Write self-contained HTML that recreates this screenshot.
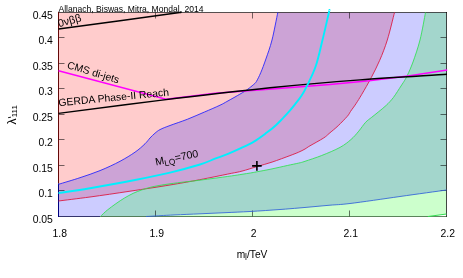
<!DOCTYPE html>
<html><head><meta charset="utf-8"><title>plot</title>
<style>
html,body{margin:0;padding:0;background:#fff;}
svg{display:block;will-change:transform;}
text{font-family:"Liberation Sans",sans-serif;font-size:10.2px;fill:#000;}
</style></head><body>
<svg width="463" height="278" viewBox="0 0 463 278">
<rect width="463" height="278" fill="#fff"/>
<path d="M58.5,12.5L394.4,12.5L394.5,12.5C393.3,17.1 389.8,32.0 387.3,40.0C384.8,48.0 382.4,54.0 379.7,60.3C377.0,66.5 374.3,71.8 371.3,77.5C368.3,83.2 364.4,89.9 361.8,94.3C359.2,98.7 357.9,100.8 356.0,103.7C354.1,106.6 351.9,109.4 350.5,111.5C349.1,113.6 349.4,113.9 347.3,116.3C345.2,118.7 341.2,122.8 338.2,125.7C335.2,128.6 331.5,131.4 329.1,133.5C326.7,135.6 326.8,135.9 323.6,138.0C320.4,140.1 313.1,144.0 310.0,145.8C306.9,147.6 306.9,147.9 305.0,149.0C303.1,150.1 301.1,151.1 298.6,152.2C296.1,153.3 294.4,153.9 290.0,155.6C285.6,157.2 277.5,160.3 272.0,162.1C266.5,163.9 261.9,165.1 256.9,166.6C251.9,168.1 246.2,170.0 242.0,171.1C237.8,172.2 236.6,172.3 231.6,173.3C226.6,174.3 218.1,176.1 212.0,177.3C205.9,178.5 202.0,179.3 195.0,180.6C188.0,181.9 180.8,183.2 170.0,185.0C159.2,186.8 143.3,189.2 130.0,191.2C116.7,193.2 101.9,195.4 90.0,197.0C78.1,198.6 63.8,200.3 58.5,201.0Z" fill="#ff0000" fill-opacity="0.2" stroke="none"/>
<path d="M58.5,184.3C62.1,183.2 73.1,180.0 80.0,177.7C86.9,175.4 93.3,173.3 100.0,170.6C106.7,167.9 114.2,164.4 120.0,161.3C125.8,158.2 130.8,155.1 135.0,152.2C139.2,149.3 142.5,146.2 145.0,143.8C147.5,141.4 148.3,139.8 150.0,138.0C151.7,136.2 153.3,134.6 155.0,133.2C156.7,131.8 157.5,130.9 160.0,129.6C162.5,128.3 165.4,127.2 170.0,125.5C174.6,123.8 181.6,121.5 187.3,119.3C193.1,117.0 199.1,114.3 204.5,112.0C209.9,109.7 216.3,107.0 220.0,105.2C223.7,103.5 224.4,102.9 226.9,101.5C229.4,100.1 232.1,98.7 235.0,97.0C237.9,95.3 241.8,93.1 244.4,91.5C247.0,89.9 248.9,88.4 250.4,87.2C251.9,86.0 252.5,85.5 253.5,84.6C254.5,83.6 255.2,83.5 256.4,81.5C257.6,79.5 259.1,76.5 260.7,72.8C262.3,69.0 264.0,64.5 265.9,59.0C267.8,53.5 270.0,47.8 272.0,40.0C274.0,32.2 276.8,17.1 277.8,12.5L446.5,12.5L446.5,190.0L446.5,190.0C438.8,191.1 416.1,194.2 400.0,196.5C383.9,198.8 361.7,202.1 350.0,203.5C338.3,204.9 338.3,204.5 330.0,205.2C321.7,205.9 308.3,207.2 300.0,207.9C291.7,208.6 288.3,208.9 280.0,209.5C271.7,210.1 259.2,211.0 250.0,211.5C240.8,212.0 233.3,212.3 225.0,212.7C216.7,213.1 208.3,213.4 200.0,213.8C191.7,214.2 181.7,214.6 175.0,214.9C168.3,215.2 164.8,215.4 160.0,215.7C155.2,216.0 148.3,216.4 146.0,216.5L58.5,216.5Z" fill="#0000ff" fill-opacity="0.2" stroke="none"/>
<path d="M100.4,216.5C101.6,215.4 104.7,212.2 107.3,210.1C109.9,208.0 113.0,205.7 115.9,203.7C118.8,201.7 121.6,199.7 124.5,198.0C127.4,196.3 130.3,194.7 133.2,193.3C136.1,192.0 138.9,190.9 141.8,189.9C144.7,188.9 147.5,188.0 150.4,187.3C153.3,186.6 155.8,186.1 159.1,185.5C162.4,184.9 165.7,184.4 170.0,183.8C174.3,183.2 180.8,182.4 185.0,181.9C189.2,181.4 190.5,181.4 195.0,180.8C199.5,180.2 205.9,179.4 212.0,178.6C218.1,177.8 226.6,176.6 231.6,175.9C236.6,175.2 238.9,174.8 242.0,174.3C245.1,173.8 247.9,173.4 250.4,173.0C252.9,172.6 253.3,172.5 256.9,171.8C260.5,171.1 266.9,170.0 272.0,168.9C277.1,167.8 282.9,166.5 287.3,165.5C291.7,164.5 295.7,163.8 298.6,163.1C301.6,162.4 301.1,162.6 305.0,161.3C308.9,160.0 315.9,157.8 321.7,155.5C327.5,153.2 335.1,150.1 340.0,147.4C344.9,144.7 347.9,142.2 351.0,139.5C354.1,136.8 356.4,134.0 358.8,131.1C361.2,128.2 363.5,124.6 365.6,122.3C367.8,120.0 369.6,119.0 371.7,117.3C373.8,115.6 375.8,114.1 378.2,112.1C380.6,110.1 383.8,107.7 386.3,105.3C388.8,102.9 390.9,100.7 393.4,97.5C395.8,94.3 399.1,88.9 401.0,86.0C402.9,83.1 403.6,82.1 404.7,80.3C405.8,78.5 406.1,78.0 407.5,75.0C408.9,72.0 410.9,67.8 413.0,62.0C415.1,56.2 417.9,48.2 420.0,40.0C422.1,31.8 424.6,17.1 425.5,12.5L446.5,12.5L446.5,214.0L428,216.5Z" fill="#00ff00" fill-opacity="0.2" stroke="none"/>
<path d="M58.5,37.5h6M446.5,37.5h-6M58.5,63.5h6M446.5,63.5h-6M58.5,88.5h6M446.5,88.5h-6M58.5,114.5h6M446.5,114.5h-6M58.5,139.5h6M446.5,139.5h-6M58.5,165.5h6M446.5,165.5h-6M58.5,190.5h6M446.5,190.5h-6M155.5,216.5v-6M155.5,12.5v6M252.5,216.5v-6M252.5,12.5v6M349.5,216.5v-6M349.5,12.5v6" stroke="#000" stroke-width="1" stroke-opacity="0.55" fill="none"/>
<path d="M58,12.5H447" stroke="#000" stroke-width="1" stroke-opacity="0.66" fill="none"/>
<path d="M446.5,12V217" stroke="#000" stroke-width="1" stroke-opacity="0.72" fill="none"/>
<path d="M58,216.5H100.4" stroke="#20205c" stroke-width="1" stroke-opacity="0.9" fill="none"/>
<path d="M100.4,216.5H447" stroke="#174a17" stroke-width="1" stroke-opacity="0.68" fill="none"/>
<path d="M58.5,12V183.5" stroke="#640808" stroke-width="1" fill="none"/>
<path d="M58.5,183.5V217" stroke="#000080" stroke-width="1" fill="none"/>
<path d="M58.5,201.0C63.8,200.3 78.1,198.6 90.0,197.0C101.9,195.4 116.7,193.2 130.0,191.2C143.3,189.2 159.2,186.8 170.0,185.0C180.8,183.2 188.0,181.9 195.0,180.6C202.0,179.3 205.9,178.5 212.0,177.3C218.1,176.1 226.6,174.3 231.6,173.3C236.6,172.3 237.8,172.2 242.0,171.1C246.2,170.0 251.9,168.1 256.9,166.6C261.9,165.1 266.5,163.9 272.0,162.1C277.5,160.3 285.6,157.2 290.0,155.6C294.4,153.9 296.1,153.3 298.6,152.2C301.1,151.1 303.1,150.1 305.0,149.0C306.9,147.9 306.9,147.6 310.0,145.8C313.1,144.0 320.4,140.1 323.6,138.0C326.8,135.9 326.7,135.6 329.1,133.5C331.5,131.4 335.2,128.6 338.2,125.7C341.2,122.8 345.2,118.7 347.3,116.3C349.4,113.9 349.1,113.6 350.5,111.5C351.9,109.4 354.1,106.6 356.0,103.7C357.9,100.8 359.2,98.7 361.8,94.3C364.4,89.9 368.3,83.2 371.3,77.5C374.3,71.8 377.0,66.5 379.7,60.3C382.4,54.0 384.8,48.0 387.3,40.0C389.8,32.0 393.3,17.1 394.5,12.5" stroke="#dc143c" stroke-width="1" fill="none" stroke-opacity="0.85"/>
<path d="M58.5,184.3C62.1,183.2 73.1,180.0 80.0,177.7C86.9,175.4 93.3,173.3 100.0,170.6C106.7,167.9 114.2,164.4 120.0,161.3C125.8,158.2 130.8,155.1 135.0,152.2C139.2,149.3 142.5,146.2 145.0,143.8C147.5,141.4 148.3,139.8 150.0,138.0C151.7,136.2 153.3,134.6 155.0,133.2C156.7,131.8 157.5,130.9 160.0,129.6C162.5,128.3 165.4,127.2 170.0,125.5C174.6,123.8 181.6,121.5 187.3,119.3C193.1,117.0 199.1,114.3 204.5,112.0C209.9,109.7 216.3,107.0 220.0,105.2C223.7,103.5 224.4,102.9 226.9,101.5C229.4,100.1 232.1,98.7 235.0,97.0C237.9,95.3 241.8,93.1 244.4,91.5C247.0,89.9 248.9,88.4 250.4,87.2C251.9,86.0 252.5,85.5 253.5,84.6C254.5,83.6 255.2,83.5 256.4,81.5C257.6,79.5 259.1,76.5 260.7,72.8C262.3,69.0 264.0,64.5 265.9,59.0C267.8,53.5 270.0,47.8 272.0,40.0C274.0,32.2 276.8,17.1 277.8,12.5" stroke="#2020ff" stroke-width="1" fill="none" stroke-opacity="0.85"/>
<path d="M446.5,190.0C438.8,191.1 416.1,194.2 400.0,196.5C383.9,198.8 361.7,202.1 350.0,203.5C338.3,204.9 338.3,204.5 330.0,205.2C321.7,205.9 308.3,207.2 300.0,207.9C291.7,208.6 288.3,208.9 280.0,209.5C271.7,210.1 259.2,211.0 250.0,211.5C240.8,212.0 233.3,212.3 225.0,212.7C216.7,213.1 208.3,213.4 200.0,213.8C191.7,214.2 181.7,214.6 175.0,214.9C168.3,215.2 164.8,215.4 160.0,215.7C155.2,216.0 148.3,216.4 146.0,216.5" stroke="#3060d8" stroke-width="1" fill="none" stroke-opacity="0.85"/>
<path d="M100.4,216.5C101.6,215.4 104.7,212.2 107.3,210.1C109.9,208.0 113.0,205.7 115.9,203.7C118.8,201.7 121.6,199.7 124.5,198.0C127.4,196.3 130.3,194.7 133.2,193.3C136.1,192.0 138.9,190.9 141.8,189.9C144.7,188.9 147.5,188.0 150.4,187.3C153.3,186.6 155.8,186.1 159.1,185.5C162.4,184.9 165.7,184.4 170.0,183.8C174.3,183.2 180.8,182.4 185.0,181.9C189.2,181.4 190.5,181.4 195.0,180.8C199.5,180.2 205.9,179.4 212.0,178.6C218.1,177.8 226.6,176.6 231.6,175.9C236.6,175.2 238.9,174.8 242.0,174.3C245.1,173.8 247.9,173.4 250.4,173.0C252.9,172.6 253.3,172.5 256.9,171.8C260.5,171.1 266.9,170.0 272.0,168.9C277.1,167.8 282.9,166.5 287.3,165.5C291.7,164.5 295.7,163.8 298.6,163.1C301.6,162.4 301.1,162.6 305.0,161.3C308.9,160.0 315.9,157.8 321.7,155.5C327.5,153.2 335.1,150.1 340.0,147.4C344.9,144.7 347.9,142.2 351.0,139.5C354.1,136.8 356.4,134.0 358.8,131.1C361.2,128.2 363.5,124.6 365.6,122.3C367.8,120.0 369.6,119.0 371.7,117.3C373.8,115.6 375.8,114.1 378.2,112.1C380.6,110.1 383.8,107.7 386.3,105.3C388.8,102.9 390.9,100.7 393.4,97.5C395.8,94.3 399.1,88.9 401.0,86.0C402.9,83.1 403.6,82.1 404.7,80.3C405.8,78.5 406.1,78.0 407.5,75.0C408.9,72.0 410.9,67.8 413.0,62.0C415.1,56.2 417.9,48.2 420.0,40.0C422.1,31.8 424.6,17.1 425.5,12.5" stroke="#30e050" stroke-width="1" fill="none" stroke-opacity="0.85"/>
<path d="M428,216.5L446.5,214" stroke="#30e050" stroke-width="1" fill="none"/>
<path d="M58.5,70.7L166.0,99.3L215.0,93.3L262.0,89.8L330.0,84.6L369.0,80.8L408.0,75.9L447.2,70.1" stroke="#ff00ff" stroke-width="1.5" fill="none"/>
<path d="M58.5,113.4C75.4,111.2 124.8,104.7 160.0,100.4C195.2,96.1 236.7,91.2 270.0,87.8C303.3,84.4 330.5,82.1 360.0,79.9C389.5,77.7 432.5,75.3 447.0,74.3" stroke="#000" stroke-width="1.45" fill="none"/>
<path d="M58.5,29.0L120.0,20.8L181.5,12.2" stroke="#000" stroke-width="1.5" fill="none"/>
<path d="M58.5,193.1C63.8,192.3 77.2,190.4 90.0,188.2C102.8,186.0 121.7,182.6 135.0,180.0C148.3,177.4 159.2,175.2 170.0,172.6C180.8,170.0 192.5,166.8 200.0,164.5C207.5,162.2 210.3,160.5 215.0,158.7C219.7,156.9 223.7,155.6 228.0,153.8C232.3,152.0 236.6,150.1 240.9,148.1C245.2,146.1 249.6,144.2 253.9,141.6C258.2,139.0 263.1,135.3 266.8,132.6C270.5,129.9 273.2,127.7 275.9,125.2C278.6,122.8 280.9,120.2 283.2,117.9C285.4,115.6 287.4,113.4 289.4,111.1C291.4,108.8 293.0,106.8 295.0,104.3C297.0,101.8 299.3,99.1 301.3,96.0C303.3,92.9 304.6,90.8 307.0,85.8C309.4,80.8 313.2,73.6 315.8,66.0C318.4,58.4 320.3,48.9 322.5,40.0C324.7,31.1 327.8,17.3 328.9,12.5C330.0,7.7 329.1,11.2 329.2,11.0" stroke="#00f0ff" stroke-width="1.9" fill="none"/>
<path d="M252.1,165.9h9.6M256.9,161.1v9.6" stroke="#000" stroke-width="1.6" fill="none"/>
<text x="52.9" y="18.5" text-anchor="end" style="font-size:10.4px">0.45</text><text x="52.9" y="44.0" text-anchor="end" style="font-size:10.4px">0.4</text><text x="52.9" y="69.5" text-anchor="end" style="font-size:10.4px">0.35</text><text x="52.9" y="95.0" text-anchor="end" style="font-size:10.4px">0.3</text><text x="52.9" y="120.5" text-anchor="end" style="font-size:10.4px">0.25</text><text x="52.9" y="146.0" text-anchor="end" style="font-size:10.4px">0.2</text><text x="52.9" y="171.5" text-anchor="end" style="font-size:10.4px">0.15</text><text x="52.9" y="197.0" text-anchor="end" style="font-size:10.4px">0.1</text><text x="52.9" y="222.5" text-anchor="end" style="font-size:10.4px">0.05</text><text x="59.7" y="237.1" text-anchor="middle" style="font-size:10.4px">1.8</text><text x="156.7" y="237.1" text-anchor="middle" style="font-size:10.4px">1.9</text><text x="253.7" y="237.1" text-anchor="middle" style="font-size:10.4px">2</text><text x="350.7" y="237.1" text-anchor="middle" style="font-size:10.4px">2.1</text><text x="447.7" y="237.1" text-anchor="middle" style="font-size:10.4px">2.2</text>
<text x="58.5" y="12.3" style="font-size:8.55px">Allanach, Biswas, Mitra, Mondal, 2014</text>
<text transform="translate(59.0,27.2) rotate(-15.5)" style="font-size:10.8px">0νββ</text>
<text transform="translate(66.6,67.9) rotate(16.8)" style="font-size:10.4px">CMS di-jets</text>
<text transform="translate(58.8,106.2) rotate(-5.5)" style="font-size:10.4px">GERDA Phase-II Reach</text>
<text transform="translate(155.9,165.5) rotate(-11.5)" style="font-size:10.6px">M<tspan dy="2.5" style="font-size:8.4px">LQ</tspan><tspan dy="-2.5">=700</tspan></text>
<text x="236.7" y="258">m<tspan dy="2.2" dx="-0.3" style="font-size:8.5px">l</tspan><tspan dy="-2.2" dx="0.2">/TeV</tspan></text>
<text transform="translate(15.5,124.5) rotate(-90)" style="font-size:12px">λ</text>
<path d="M8.1,117.7L10.9,117.2" stroke="#000" stroke-width="0.9" fill="none"/>
<text transform="translate(16.9,117.3) rotate(-90)" style="font-size:8px">111</text>
</svg>
</body></html>
